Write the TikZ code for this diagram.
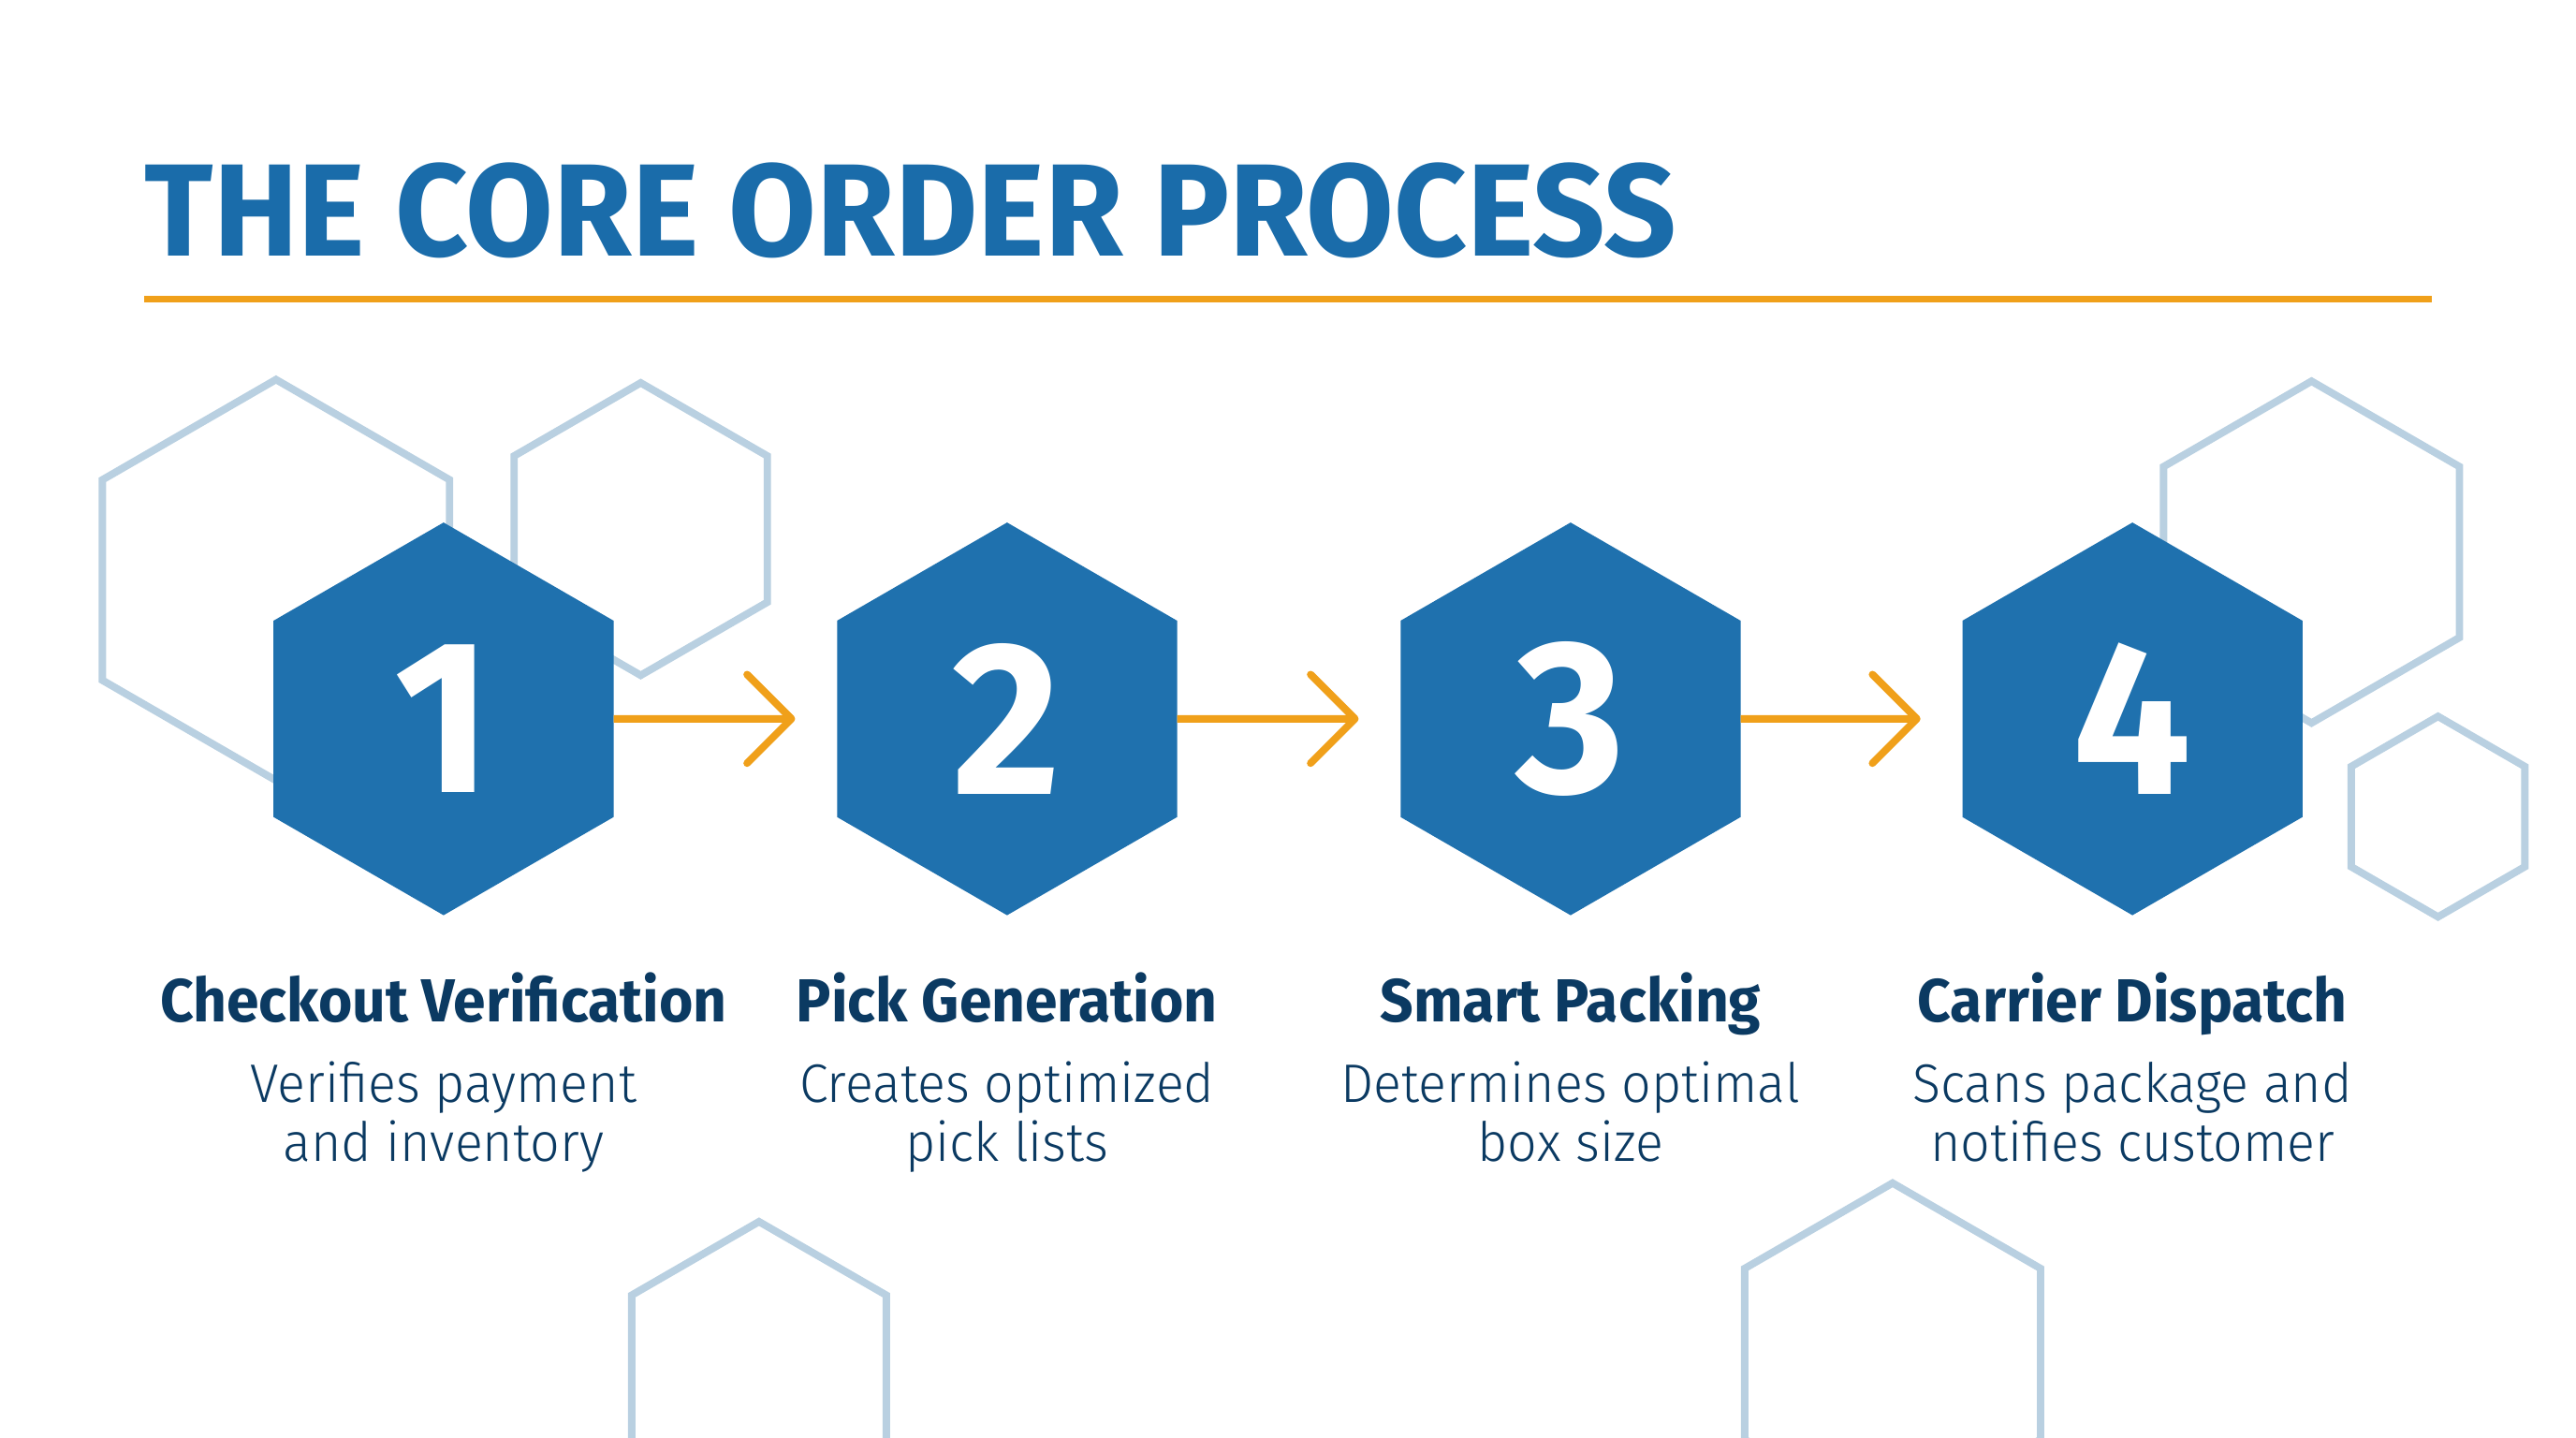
\documentclass[tikz,border=0pt]{standalone}
\usepackage{fontspec}
\setmainfont{Fira Sans}
\newfontfamily\titlefont[FakeStretch=0.967]{Fira Sans}
\newfontfamily\headfont[FakeStretch=0.96]{Fira Sans}
\newfontfamily\lightfont[FakeStretch=0.96]{Fira Sans Light}
\usetikzlibrary{shapes.geometric, arrows.meta, positioning}

\definecolor{hexblue}{RGB}{31,113,174}
\definecolor{titleblue}{RGB}{26,108,170}
\definecolor{navy}{RGB}{11,58,98}
\definecolor{accent}{RGB}{240,160,26}
\definecolor{paleblue}{RGB}{185,208,225}

\begin{document}
\begin{tikzpicture}[
        x=1pt, y=1pt,
        hexstep/.style={regular polygon, regular polygon sides=6, shape border rotate=30, fill=hexblue, minimum size=239pt, inner sep=0pt, outer sep=0pt, text=white, font=\headfont\bfseries\fontsize{133}{133}\selectfont},
        bghex/.style={regular polygon, regular polygon sides=6, shape border rotate=30, draw=paleblue, line width=4.5pt, inner sep=0pt},
        steptitle/.style={anchor=base, inner sep=0pt, text=navy, font=\headfont\bfseries\fontsize{37}{40}\selectfont},
        stepdesc/.style={anchor=north, inner sep=0pt, align=center, text=navy, font=\lightfont\fontsize{33}{36}\selectfont},
        arrow/.style={line width=4.5pt, draw=accent, -{Straight Barb[length=27pt, width=54pt, round]}, shorten >=25.5pt}
    ]
        \fill[white] (0,0) rectangle (1568,-875);
        \clip (0,0) rectangle (1568,-875);

        % Title
        \node[anchor=base west, inner sep=0pt, text=titleblue, font=\titlefont\bfseries\fontsize{80}{80}\selectfont] (title) at (88,-156) {THE CORE ORDER PROCESS};
        \draw[accent, line width=4pt] (88,-182) -- (1480,-182);

        % Background hexagons
        \node[bghex, minimum size=244pt] (bg1) at (168,-353) {};
        \node[bghex, minimum size=178pt] (bg2) at (390,-322) {};
        \node[bghex, minimum size=208pt] (bg3) at (1407,-336) {};
        \node[bghex, minimum size=122pt] (bg4) at (1484,-497) {};
        \node[bghex, minimum size=179pt] (bg5) at (462,-833) {};
        \node[bghex, minimum size=208pt] (bg6) at (1152,-824) {};

        % Steps
        \node[hexstep] (s1) at (270,-437.5) {1};
        \node[hexstep] (s2) at (613,-437.5) {2};
        \node[hexstep] (s3) at (956,-437.5) {3};
        \node[hexstep] (s4) at (1298,-437.5) {4};

        % Labels
        \node[steptitle] (t1) at (270,-622) {Checkout Verification};
        \node[steptitle] (t2) at (613,-622) {Pick Generation};
        \node[steptitle] (t3) at (956,-622) {Smart Packing};
        \node[steptitle] (t4) at (1298,-622) {Carrier Dispatch};

        \node[stepdesc] (d1) at (270,-646) {Verifies payment\\and inventory};
        \node[stepdesc] (d2) at (613,-646) {Creates optimized\\pick lists};
        \node[stepdesc] (d3) at (956,-646) {Determines optimal\\box size};
        \node[stepdesc] (d4) at (1298,-646) {Scans package and\\notifies customer};

        % Arrows
        \draw[arrow] (s1.east) -- (s2.west);
        \draw[arrow] (s2.east) -- (s3.west);
        \draw[arrow] (s3.east) -- (s4.west);
    \end{tikzpicture}
\end{document}
